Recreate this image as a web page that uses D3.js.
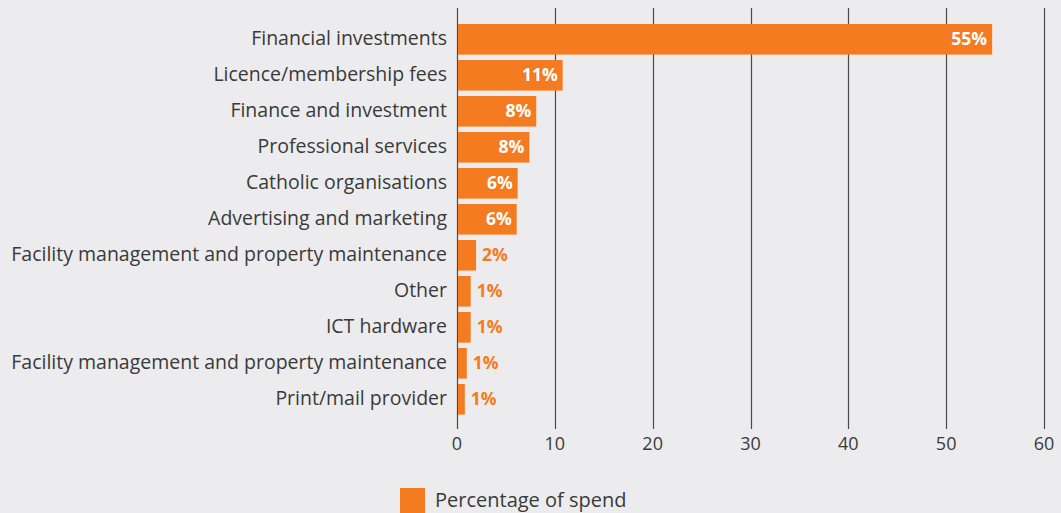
<!DOCTYPE html>
<html>
<head>
<meta charset="utf-8">
<script src="https://cdn.jsdelivr.net/npm/d3@7.9.0/dist/d3.min.js"></script>
<style>
  html, body { margin: 0; padding: 0; background: #ececee; }
  svg { display: block; font-family: "Open Sans", Lato, sans-serif; }
</style>
</head>
<body>
<svg width="1061" height="513"></svg>
<script>
const categories = [
    'Financial investments',
    'Licence/membership fees',
    'Finance and investment',
    'Professional services',
    'Catholic organisations',
    'Advertising and marketing',
    'Facility management and property maintenance',
    'Other',
    'ICT hardware',
    'Facility management and property maintenance ',
    'Print/mail provider'
];
const values = [54.7, 10.8, 8.1, 7.4, 6.2, 6.1, 1.95, 1.4, 1.4, 1.0, 0.8];
const valueLabels = ['55%', '11%', '8%', '8%', '6%', '6%', '2%', '1%', '1%', '1%', '1%'];
const xTicks = [0, 10, 20, 30, 40, 50, 60];
const seriesName = 'Percentage of spend';

const orange = '#f47b20';
const textColor = '#3a3a3a';
const svg = d3.select('svg');

const x = d3.scaleLinear().domain([0, 60]).range([457, 1044]);
const y = d3.scaleBand().domain(categories).range([21.3, 417.3]).paddingInner(0.15).paddingOuter(0.075);

// gridlines
svg.append('g')
    .selectAll('line')
    .data(xTicks)
    .join('line')
    .attr('x1', d => Math.round(x(d)) + 0.5)
    .attr('x2', d => Math.round(x(d)) + 0.5)
    .attr('y1', 8)
    .attr('y2', 429)
    .attr('stroke', '#4a4a4a')
    .attr('stroke-width', 1.2);

// x tick labels
svg.append('g')
    .selectAll('text')
    .data(xTicks)
    .join('text')
    .attr('x', d => x(d))
    .attr('y', 450)
    .attr('text-anchor', 'middle')
    .attr('font-size', 18)
    .attr('fill', textColor)
    .text(d => d);

// bars
svg.append('g')
    .selectAll('rect')
    .data(values)
    .join('rect')
    .attr('x', x(0) + 1)
    .attr('y', (d, i) => y(categories[i]))
    .attr('width', d => x(d) - x(0) - 1)
    .attr('height', y.bandwidth())
    .attr('fill', orange);

// category labels
svg.append('g')
    .selectAll('text')
    .data(categories)
    .join('text')
    .attr('x', 447)
    .attr('y', d => y(d) + y.bandwidth() / 2)
    .attr('dy', '0.28em')
    .attr('text-anchor', 'end')
    .attr('font-size', 19.5)
    .attr('fill', textColor)
    .text(d => d.trim());

// value labels: inside for big bars, outside for small ones
svg.append('g')
    .selectAll('text')
    .data(values)
    .join('text')
    .attr('x', d => d >= 5 ? x(d) - 5 : x(d) + 6)
    .attr('y', (d, i) => y(categories[i]) + y.bandwidth() / 2)
    .attr('dy', '0.33em')
    .attr('text-anchor', d => d >= 5 ? 'end' : 'start')
    .attr('font-size', 17.5)
    .attr('font-weight', 'bold')
    .attr('fill', d => d >= 5 ? '#ffffff' : orange)
    .text((d, i) => valueLabels[i]);

// legend
const legend = svg.append('g');
legend.append('rect')
    .attr('x', 400).attr('y', 488)
    .attr('width', 25).attr('height', 25)
    .attr('fill', orange);
legend.append('text')
    .attr('x', 435).attr('y', 500)
    .attr('dy', '0.35em')
    .attr('font-size', 20)
    .attr('fill', textColor)
    .text(seriesName);
</script>
</body>
</html>
